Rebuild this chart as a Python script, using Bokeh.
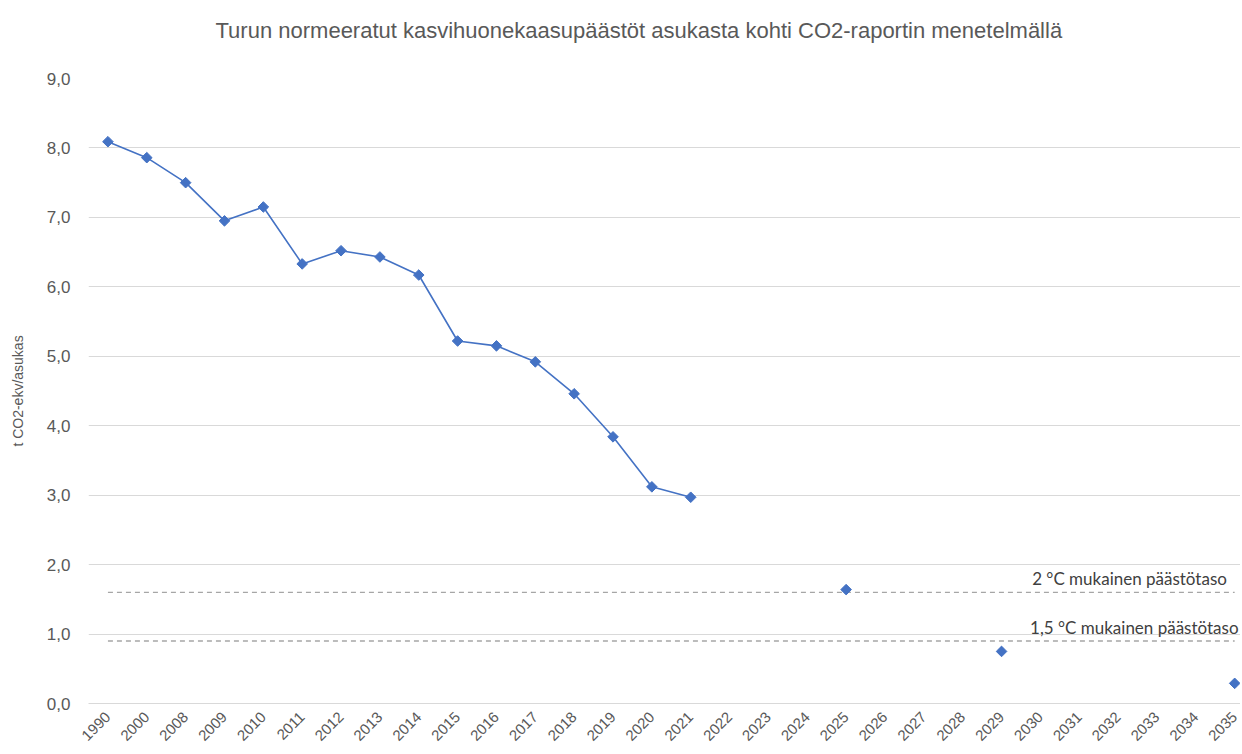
import math
from bokeh.plotting import figure
from bokeh.models import Range1d, FixedTicker, Label, Title
from bokeh.embed import file_html
from bokeh.resources import INLINE

# ---- data ----
vuodet = ["1990", "2000", "2008", "2009", "2010", "2011", "2012", "2013", "2014",
          "2015", "2016", "2017", "2018", "2019", "2020", "2021", "2022", "2023",
          "2024", "2025", "2026", "2027", "2028", "2029", "2030", "2031", "2032",
          "2033", "2034", "2035"]
nan = float("nan")
paastot = [8.09, 7.86, 7.50, 6.95, 7.15, 6.33, 6.52, 6.43, 6.17,
           5.22, 5.15, 4.92, 4.46, 3.84, 3.12, 2.97, nan, nan,
           nan, 1.64, nan, nan, nan, 0.75, nan, nan, nan,
           nan, nan, 0.29]
taso_2c = 1.6
taso_15c = 0.9
y_ticks = [0, 1, 2, 3, 4, 5, 6, 7, 8, 9]
y_labels = ["0,0", "1,0", "2,0", "3,0", "4,0", "5,0", "6,0", "7,0", "8,0", "9,0"]
otsikko = "Turun normeeratut kasvihuonekaasupäästöt asukasta kohti CO2-raportin menetelmällä"
y_otsikko = "t CO2-ekv/asukas"
teksti_2c = "2 °C mukainen päästötaso"
teksti_15c = "1,5 °C mukainen päästötaso"

idx = list(range(len(vuodet)))

p = figure(width=1240, height=748, output_backend="svg", toolbar_location=None,
           x_range=Range1d(-0.5, 29.15), y_range=Range1d(0, 9),
           min_border_left=88, min_border_right=0, min_border_top=78, min_border_bottom=45)
p.outline_line_color = None
p.background_fill_color = "white"
p.border_fill_color = "white"

p.add_layout(Title(text=otsikko + "\n", align="left", offset=127, standoff=22,
                   text_font="Liberation Sans", text_font_size="22px",
                   text_font_style="normal", text_color="#595959"), "above")

# grid
p.xgrid.grid_line_color = None
p.ygrid.grid_line_color = "#d9d9d9"
p.ygrid.grid_line_width = 1

# y axis
p.yaxis.ticker = FixedTicker(ticks=y_ticks)
p.yaxis.major_label_overrides = {t: l for t, l in zip(y_ticks, y_labels)}
p.yaxis.axis_line_color = None
p.yaxis.major_tick_line_color = None
p.yaxis.minor_tick_line_color = None
p.yaxis.major_label_text_font = "Liberation Sans"
p.yaxis.major_label_text_font_size = "17px"
p.yaxis.major_label_text_color = "#595959"
p.yaxis.major_label_standoff = 12
p.yaxis.axis_label = y_otsikko
p.yaxis.axis_label_text_font = "Liberation Sans"
p.yaxis.axis_label_text_font_size = "14px"
p.yaxis.axis_label_text_font_style = "normal"
p.yaxis.axis_label_text_color = "#595959"
p.yaxis.axis_label_standoff = 18

# x axis
p.xaxis.ticker = FixedTicker(ticks=idx)
p.xaxis.major_label_overrides = {i: v for i, v in zip(idx, vuodet)}
p.xaxis.major_label_orientation = math.pi / 4
p.xaxis.axis_line_color = "#d9d9d9"
p.xaxis.major_tick_line_color = None
p.xaxis.minor_tick_line_color = None
p.xaxis.major_label_text_font = "Liberation Sans"
p.xaxis.major_label_text_font_size = "15px"
p.xaxis.major_label_text_color = "#595959"
p.xaxis.major_label_standoff = 5

# reference levels
p.line([idx[0], idx[-1]], [taso_2c, taso_2c], line_color="#a6a6a6", line_width=1.3, line_dash="5 4")
p.line([idx[0], idx[-1]], [taso_15c, taso_15c], line_color="#a6a6a6", line_width=1.3, line_dash="5 4")

# emissions
p.line(idx, paastot, line_color="#4472C4", line_width=1.6)
p.scatter(idx, paastot, marker="square", angle=math.pi / 4, size=7.5,
          fill_color="#4472C4", line_color="#4472C4")

# texts
p.add_layout(Label(x=28.8, y=taso_2c, text=teksti_2c, text_align="right", text_baseline="bottom",
                   y_offset=3, text_font="Lato", text_font_size="17px", text_color="#404040"))
p.add_layout(Label(x=29.1, y=taso_15c, text=teksti_15c, text_align="right", text_baseline="bottom",
                   y_offset=3, text_font="Lato", text_font_size="17px", text_color="#404040"))

open("out.html", "w").write(file_html(p, INLINE))
